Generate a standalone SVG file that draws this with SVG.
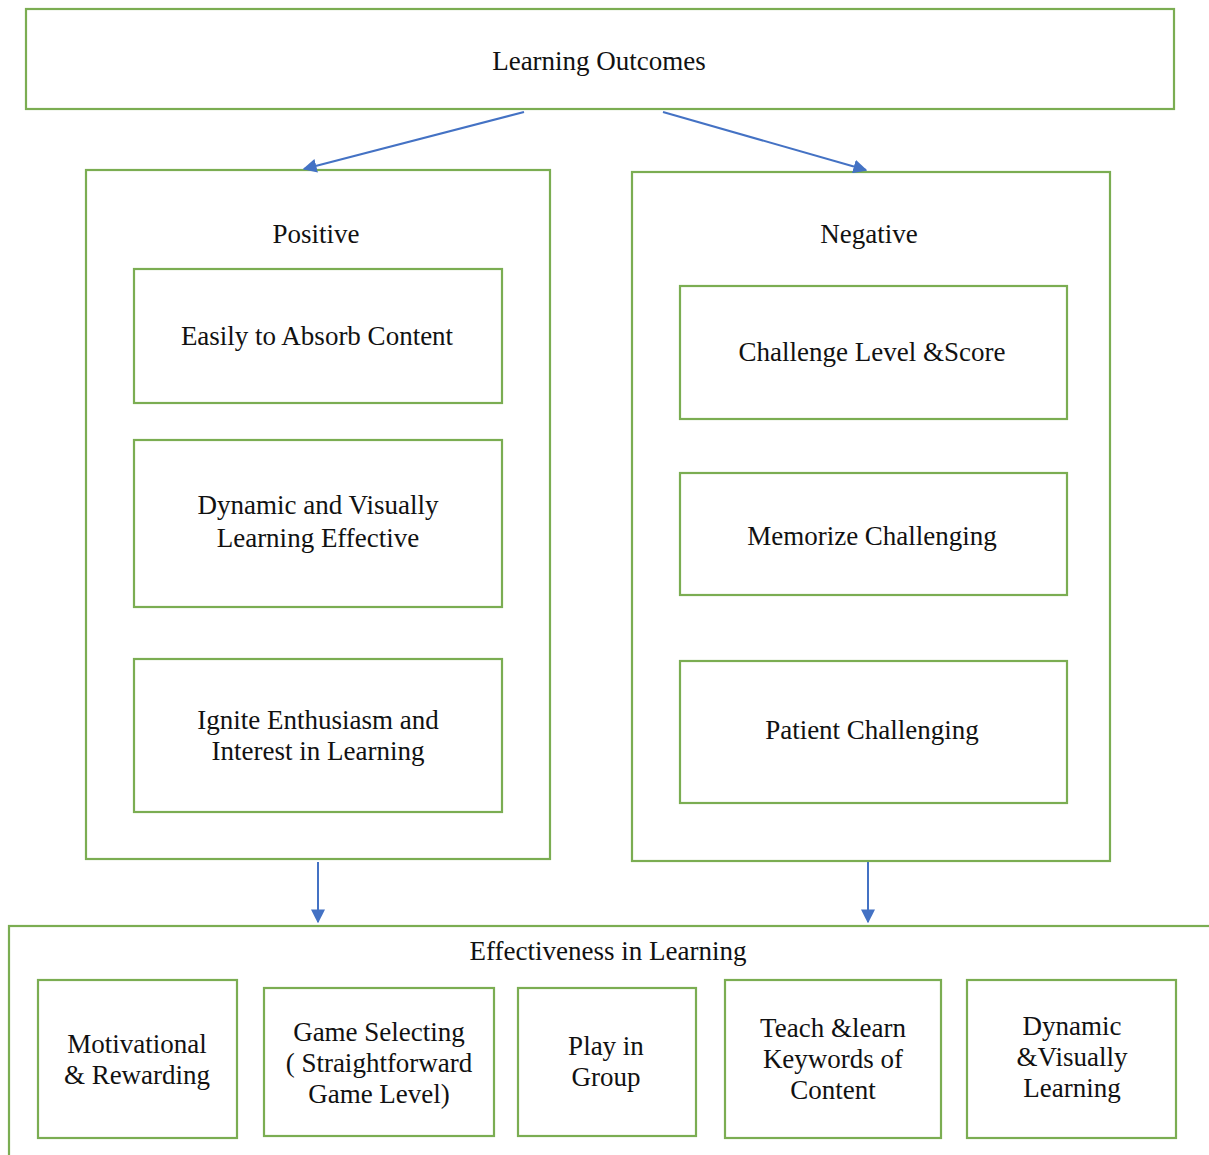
<svg xmlns="http://www.w3.org/2000/svg" width="1209" height="1155" viewBox="0 0 1209 1155">
<style>
.b{fill:#fff;stroke:#7BAD52;stroke-width:2.2}
.t{font-family:"Liberation Serif","Times New Roman",serif;font-size:27px;fill:#111;text-anchor:middle}
.c{stroke:#4472C4;stroke-width:2;fill:none}
</style>
<defs>
<marker id="a2" viewBox="0 0 10 10" refX="9" refY="5" markerWidth="14" markerHeight="14" markerUnits="userSpaceOnUse" orient="auto"><path d="M0,0L10,5L0,10z" fill="#4472C4"/></marker>
</defs>
<rect width="1209" height="1155" fill="#fff"/>
<g id="learning-outcomes"><rect class="b" x="26" y="9" width="1148" height="100"/><text class="t" x="599" y="70">Learning Outcomes</text></g>
<g id="positive"><rect class="b" x="86" y="170" width="464" height="689"/><text class="t" x="316" y="243">Positive</text></g>
<g id="negative"><rect class="b" x="632" y="172" width="478" height="689"/><text class="t" x="869" y="243">Negative</text></g>
<g id="easily"><rect class="b" x="134" y="269" width="368" height="134"/><text class="t" x="317" y="345">Easily to Absorb Content</text></g>
<g id="dynamic-visually-effective"><rect class="b" x="134" y="440" width="368" height="167"/><text class="t" x="318" y="514">Dynamic and Visually</text><text class="t" x="318" y="547">Learning Effective</text></g>
<g id="ignite"><rect class="b" x="134" y="659" width="368" height="153"/><text class="t" x="318" y="729">Ignite Enthusiasm and</text><text class="t" x="318" y="760">Interest in Learning</text></g>
<g id="challenge"><rect class="b" x="680" y="286" width="387" height="133"/><text class="t" x="872" y="361">Challenge Level &amp;Score</text></g>
<g id="memorize"><rect class="b" x="680" y="473" width="387" height="122"/><text class="t" x="872" y="545">Memorize Challenging</text></g>
<g id="patient"><rect class="b" x="680" y="661" width="387" height="142"/><text class="t" x="872" y="739">Patient Challenging</text></g>
<g id="effectiveness"><rect class="b" x="9" y="926" width="1220" height="250"/><text class="t" x="608" y="960">Effectiveness in Learning</text></g>
<g id="motivational"><rect class="b" x="38" y="980" width="199" height="158"/><text class="t" x="137" y="1053">Motivational</text><text class="t" x="137" y="1084">&amp; Rewarding</text></g>
<g id="game-selecting"><rect class="b" x="264" y="988" width="230" height="148"/><text class="t" x="379" y="1041">Game Selecting</text><text class="t" x="379" y="1072">( Straightforward</text><text class="t" x="379" y="1103">Game Level)</text></g>
<g id="play-group"><rect class="b" x="518" y="988" width="178" height="148"/><text class="t" x="606" y="1055">Play in</text><text class="t" x="606" y="1086">Group</text></g>
<g id="teach"><rect class="b" x="725" y="980" width="216" height="158"/><text class="t" x="833" y="1037">Teach &amp;learn</text><text class="t" x="833" y="1068">Keywords of</text><text class="t" x="833" y="1099">Content</text></g>
<g id="dynamic-visually"><rect class="b" x="967" y="980" width="209" height="158"/><text class="t" x="1072" y="1035">Dynamic</text><text class="t" x="1072" y="1066">&amp;Visually</text><text class="t" x="1072" y="1097">Learning</text></g>
<g id="connectors">
<line class="c" x1="524" y1="112" x2="304" y2="169" marker-end="url(#a2)"/>
<line class="c" x1="663" y1="112" x2="866" y2="170" marker-end="url(#a2)"/>
<line class="c" x1="318" y1="862" x2="318" y2="922" marker-end="url(#a2)"/>
<line class="c" x1="868" y1="862" x2="868" y2="922" marker-end="url(#a2)"/>
</g>
</svg>
